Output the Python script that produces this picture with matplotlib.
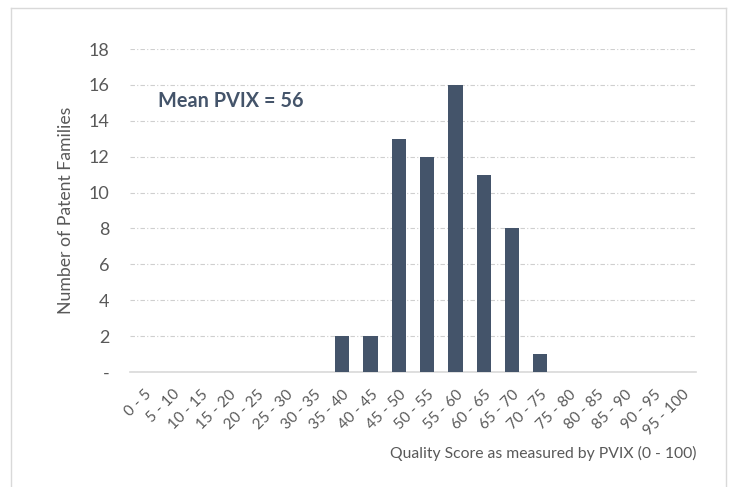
import matplotlib.pyplot as plt
from matplotlib.lines import Line2D

plt.rcParams['font.family'] = ['Lato', 'DejaVu Sans']

bins = ['0 - 5', '5 - 10', '10 - 15', '15 - 20', '20 - 25', '25 - 30', '30 - 35',
        '35 - 40', '40 - 45', '45 - 50', '50 - 55', '55 - 60', '60 - 65', '65 - 70',
        '70 - 75', '75 - 80', '80 - 85', '85 - 90', '90 - 95', '95 - 100']
counts = [0, 0, 0, 0, 0, 0, 0, 2, 2, 13, 12, 16, 11, 8, 1, 0, 0, 0, 0, 0]
yticks = [0, 2, 4, 6, 8, 10, 12, 14, 16, 18]
ylabels = ['-', '2', '4', '6', '8', '10', '12', '14', '16', '18']

bar_col = '#44546A'
txt_col = '#595959'

fig = plt.figure(figsize=(7.31, 4.87), dpi=100)
ax = fig.add_axes([130/731, 1 - 372/487, (696-130)/731, (372-49)/487])

x = range(len(bins))
ax.bar(x, counts, width=0.5, color=bar_col, zorder=3)
ax.set_xlim(-0.5, len(bins) - 0.5)
ax.set_ylim(0, 18)
ax.set_yticks(yticks)
ax.set_yticklabels(ylabels, fontsize=13, color=txt_col)
ax.set_xticks(list(x))
ax.set_xticklabels(bins, rotation=45, ha='right', rotation_mode='anchor',
                   fontsize=11, color=txt_col)
ax.tick_params(axis='y', length=0, pad=15)
ax.tick_params(axis='x', length=0, pad=11)
ax.yaxis.grid(True, color='#CFCFCF', linestyle=(0, (4, 2, 1, 2)), linewidth=0.8)
for s in ['top', 'right', 'left']:
    ax.spines[s].set_visible(False)
ax.spines['bottom'].set_color('#D9D9D9')
ax.spines['bottom'].set_linewidth(1.2)
ax.set_axisbelow(True)

ax.set_ylabel('Number of Patent Families', fontsize=12.7, color=txt_col, labelpad=10)
fig.text(697/731, 1 - 453/487, 'Quality Score as measured by PVIX (0 - 100)',
         ha='right', va='center', fontsize=11.3, color=txt_col)
ax.text(0.05, 0.84, 'Mean PVIX = 56', transform=ax.transAxes, fontsize=14.3,
        fontweight='bold', color=bar_col, va='center', ha='left')

# frame around the picture
fc = '#D9D9D9'
fig.add_artist(Line2D([11/731, 11/731], [0, 1 - 8/487], color=fc, lw=1, transform=fig.transFigure))
fig.add_artist(Line2D([11/731, 726/731], [1 - 8/487, 1 - 8/487], color=fc, lw=1, transform=fig.transFigure))
fig.add_artist(Line2D([726/731, 726/731], [0, 1 - 8/487], color=fc, lw=1, transform=fig.transFigure))

fig.savefig('out.png', dpi=100)
